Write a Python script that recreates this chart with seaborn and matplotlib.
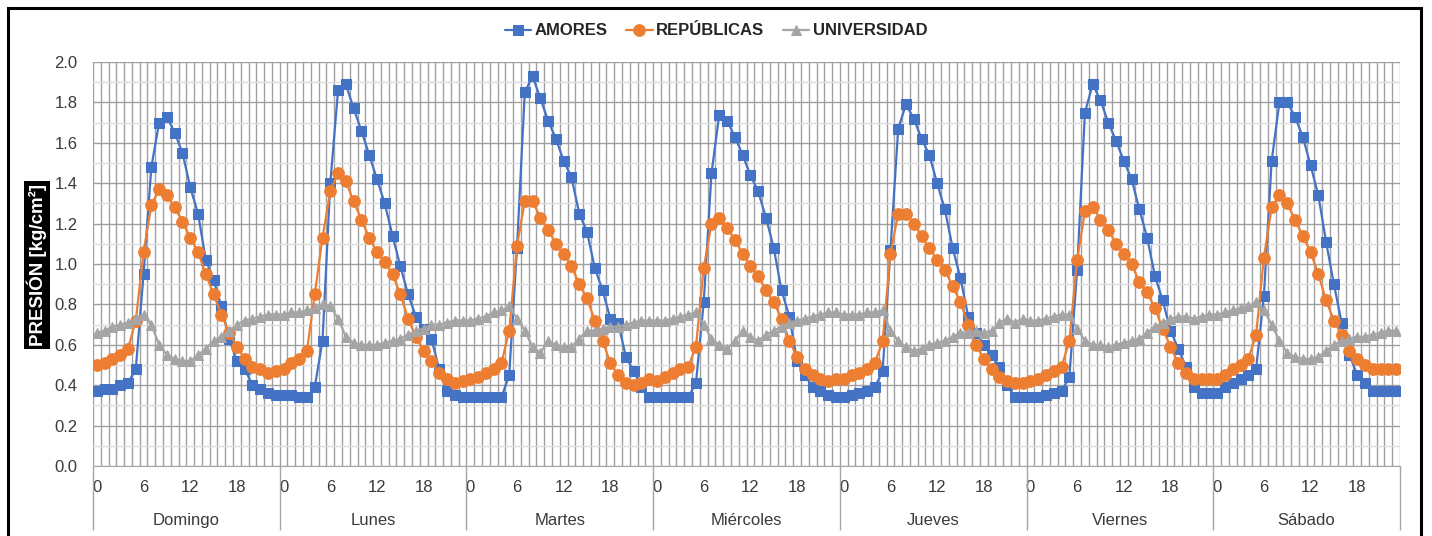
"""
Presión horaria por día - AMORES / REPÚBLICAS / UNIVERSIDAD
"""
import numpy as np
import pandas as pd
import seaborn as sns
import matplotlib.pyplot as plt
from matplotlib.patches import Rectangle

dias = ["Domingo", "Lunes", "Martes", "Miércoles", "Jueves", "Viernes", "Sábado"]
horas = list(range(24))
horas_ticks = [0, 6, 12, 18]
horas_labels = ["0", "6", "12", "18"]

amores = [
    0.37, 0.38, 0.38, 0.40, 0.41, 0.48, 0.95, 1.48, 1.70, 1.73, 1.65, 1.55, 1.38, 1.25, 1.02, 0.92, 0.79, 0.63, 0.52, 0.48, 0.40, 0.38, 0.36, 0.35,
    0.35, 0.35, 0.34, 0.34, 0.39, 0.62, 1.40, 1.86, 1.89, 1.77, 1.66, 1.54, 1.42, 1.30, 1.14, 0.99, 0.85, 0.74, 0.68, 0.63, 0.48, 0.37, 0.35, 0.34,
    0.34, 0.34, 0.34, 0.34, 0.34, 0.45, 1.08, 1.85, 1.93, 1.82, 1.71, 1.62, 1.51, 1.43, 1.25, 1.16, 0.98, 0.87, 0.73, 0.71, 0.54, 0.47, 0.39, 0.34,
    0.34, 0.34, 0.34, 0.34, 0.34, 0.41, 0.81, 1.45, 1.74, 1.71, 1.63, 1.54, 1.44, 1.36, 1.23, 1.08, 0.87, 0.74, 0.52, 0.45, 0.39, 0.37, 0.35, 0.34,
    0.34, 0.35, 0.36, 0.37, 0.39, 0.47, 1.07, 1.67, 1.79, 1.72, 1.62, 1.54, 1.40, 1.27, 1.08, 0.93, 0.74, 0.66, 0.60, 0.55, 0.49, 0.40, 0.34, 0.34,
    0.34, 0.34, 0.35, 0.36, 0.37, 0.44, 0.97, 1.75, 1.89, 1.81, 1.70, 1.61, 1.51, 1.42, 1.27, 1.13, 0.94, 0.82, 0.67, 0.58, 0.49, 0.39, 0.36, 0.36,
    0.36, 0.39, 0.41, 0.43, 0.45, 0.48, 0.84, 1.51, 1.80, 1.80, 1.73, 1.63, 1.49, 1.34, 1.11, 0.90, 0.71, 0.55, 0.45, 0.41, 0.37, 0.37, 0.37, 0.37,
]

republicas = [
    0.50, 0.51, 0.53, 0.55, 0.58, 0.72, 1.06, 1.29, 1.37, 1.34, 1.28, 1.21, 1.13, 1.06, 0.95, 0.85, 0.75, 0.66, 0.59, 0.53, 0.49, 0.48, 0.46, 0.47,
    0.48, 0.51, 0.53, 0.57, 0.85, 1.13, 1.36, 1.45, 1.41, 1.31, 1.22, 1.13, 1.06, 1.01, 0.95, 0.85, 0.73, 0.64, 0.57, 0.52, 0.46, 0.43, 0.41, 0.42,
    0.43, 0.44, 0.46, 0.48, 0.51, 0.67, 1.09, 1.31, 1.31, 1.23, 1.17, 1.10, 1.05, 0.99, 0.90, 0.83, 0.72, 0.62, 0.51, 0.45, 0.41, 0.40, 0.41, 0.43,
    0.42, 0.44, 0.46, 0.48, 0.49, 0.59, 0.98, 1.20, 1.23, 1.18, 1.12, 1.05, 0.99, 0.94, 0.87, 0.81, 0.73, 0.62, 0.54, 0.48, 0.45, 0.43, 0.42, 0.43,
    0.43, 0.45, 0.46, 0.48, 0.51, 0.62, 1.05, 1.25, 1.25, 1.20, 1.14, 1.08, 1.02, 0.97, 0.89, 0.81, 0.70, 0.60, 0.53, 0.48, 0.44, 0.42, 0.41, 0.41,
    0.42, 0.43, 0.45, 0.47, 0.49, 0.62, 1.02, 1.26, 1.28, 1.22, 1.17, 1.10, 1.05, 1.00, 0.91, 0.86, 0.78, 0.68, 0.59, 0.51, 0.46, 0.43, 0.43, 0.43,
    0.43, 0.45, 0.48, 0.50, 0.53, 0.65, 1.03, 1.28, 1.34, 1.30, 1.22, 1.14, 1.06, 0.95, 0.82, 0.72, 0.65, 0.57, 0.53, 0.50, 0.48, 0.48, 0.48, 0.48,
]

universidad = [
    0.66, 0.67, 0.69, 0.70, 0.71, 0.73, 0.75, 0.70, 0.60, 0.55, 0.53, 0.52, 0.52, 0.55, 0.58, 0.62, 0.64, 0.67, 0.70, 0.72, 0.73, 0.74, 0.75, 0.75,
    0.75, 0.76, 0.76, 0.77, 0.78, 0.80, 0.79, 0.73, 0.64, 0.61, 0.60, 0.60, 0.60, 0.61, 0.62, 0.63, 0.65, 0.67, 0.68, 0.70, 0.70, 0.71, 0.72, 0.72,
    0.72, 0.73, 0.74, 0.76, 0.77, 0.79, 0.73, 0.67, 0.59, 0.56, 0.62, 0.60, 0.59, 0.59, 0.63, 0.67, 0.67, 0.68, 0.69, 0.69, 0.70, 0.71, 0.72, 0.72,
    0.72, 0.72, 0.73, 0.74, 0.75, 0.76, 0.70, 0.63, 0.60, 0.58, 0.62, 0.67, 0.64, 0.62, 0.65, 0.67, 0.69, 0.71, 0.72, 0.73, 0.74, 0.75, 0.76, 0.76,
    0.75, 0.75, 0.75, 0.76, 0.76, 0.77, 0.67, 0.62, 0.59, 0.57, 0.58, 0.60, 0.61, 0.62, 0.64, 0.66, 0.66, 0.67, 0.66, 0.67, 0.71, 0.73, 0.71, 0.73,
    0.72, 0.72, 0.73, 0.74, 0.75, 0.75, 0.68, 0.62, 0.60, 0.60, 0.59, 0.60, 0.61, 0.62, 0.63, 0.66, 0.69, 0.71, 0.73, 0.74, 0.74, 0.73, 0.74, 0.75,
    0.75, 0.76, 0.77, 0.78, 0.79, 0.81, 0.77, 0.70, 0.62, 0.56, 0.54, 0.53, 0.53, 0.54, 0.57, 0.60, 0.62, 0.63, 0.64, 0.64, 0.65, 0.66, 0.67, 0.67,
]

series = {"AMORES": amores, "REPÚBLICAS": republicas, "UNIVERSIDAD": universidad}
colores = {"AMORES": "#4472C4", "REPÚBLICAS": "#ED7D31", "UNIVERSIDAD": "#A5A5A5"}
marcadores = {"AMORES": "s", "REPÚBLICAS": "o", "UNIVERSIDAD": "^"}
tamanos = {"AMORES": 7.6, "REPÚBLICAS": 8.4, "UNIVERSIDAD": 7.4}


def main():
    df = pd.DataFrame({
        "dia": np.repeat(dias, len(horas)),
        "hora": np.tile(horas, len(dias)),
    })
    df["idx"] = np.arange(len(df))
    for name, vals in series.items():
        df[name] = vals
    largo = df.melt(id_vars=["dia", "hora", "idx"], value_vars=list(series),
                    var_name="estacion", value_name="presion")

    sns.set_style("white")
    plt.rcParams["font.family"] = ["Liberation Sans", "DejaVu Sans"]

    W, H = 1432, 536
    fig = plt.figure(figsize=(W / 100, H / 100), dpi=100)
    ax = fig.add_axes([93 / W, 70 / H, 1307 / W, 404 / H])

    for name in series:
        sub = largo[largo["estacion"] == name]
        sns.lineplot(data=sub, x="idx", y="presion", ax=ax, color=colores[name],
                     marker=marcadores[name], markersize=tamanos[name],
                     markeredgecolor=colores[name], linewidth=1.6, label=name)

    n = len(df)
    ax.set_xlim(-0.5, n - 0.5)
    ax.set_ylim(0, 2)

    # ejes y rejilla
    ax.set_yticks(np.arange(0, 2.01, 0.2))
    ax.set_yticklabels([f"{v:.1f}" for v in np.arange(0, 2.01, 0.2)])
    ax.set_yticks(np.arange(0.1, 2.0, 0.2), minor=True)
    ax.set_xticks([d * 24 + h for d in range(len(dias)) for h in horas_ticks])
    ax.set_xticklabels(horas_labels * len(dias))
    ax.set_xticks(np.arange(-0.5, n, 1), minor=True)
    ax.tick_params(axis="x", which="both", length=0, pad=10, labelsize=12, labelcolor="#3A3A3A")
    ax.tick_params(axis="y", which="both", length=0, pad=11, labelsize=12, labelcolor="#3A3A3A")
    ax.set_axisbelow(True)
    ax.grid(False)
    ax.grid(which="minor", axis="x", color="#A0A0A0", linewidth=1)
    ax.grid(which="major", axis="y", color="#A0A0A0", linewidth=1)
    ax.grid(which="minor", axis="y", color="#DDDDDD", linewidth=1)
    for s in ["top", "right", "left"]:
        ax.spines[s].set_visible(False)
    ax.spines["bottom"].set_color("#A6A6A6")
    ax.set_xlabel("")
    ax.set_ylabel("")

    # etiquetas de día y separadores
    xt = ax.get_xaxis_transform()
    for i, dia in enumerate(dias):
        ax.text(i * 24 + 11.5, -0.134, dia, transform=xt, ha="center", va="center",
                fontsize=12, color="#3A3A3A")
    ax.vlines(np.arange(0, n + 1, 24) - 0.5, -0.158, 0, transform=xt, clip_on=False,
              color="#A6A6A6", linewidth=1)

    # leyenda
    handles, labels = ax.get_legend_handles_labels()
    ax.get_legend().remove()
    fig.legend(handles, labels, loc="center", bbox_to_anchor=(0.5, 1 - 31 / H), ncol=3,
               frameon=False, prop={"weight": "bold", "size": 12}, handlelength=1.6,
               handletextpad=0.2, columnspacing=1.1)

    fig.text(37 / W, 1 - 265 / H, "PRESIÓN [kg/cm²]", rotation=90, ha="center", va="center",
             color="white", fontweight="bold", fontsize=13.5,
             bbox=dict(boxstyle="square,pad=0.14", fc="black", ec="none"))

    # marco
    fig.add_artist(Rectangle((8 / W, -0.1), (1421 - 8) / W, 1.1 - 8 / H,
                             transform=fig.transFigure, fill=False, ec="black", lw=2.2))

    fig.savefig("out.png", dpi=100)
    return


if __name__ == "__main__":
    main()
